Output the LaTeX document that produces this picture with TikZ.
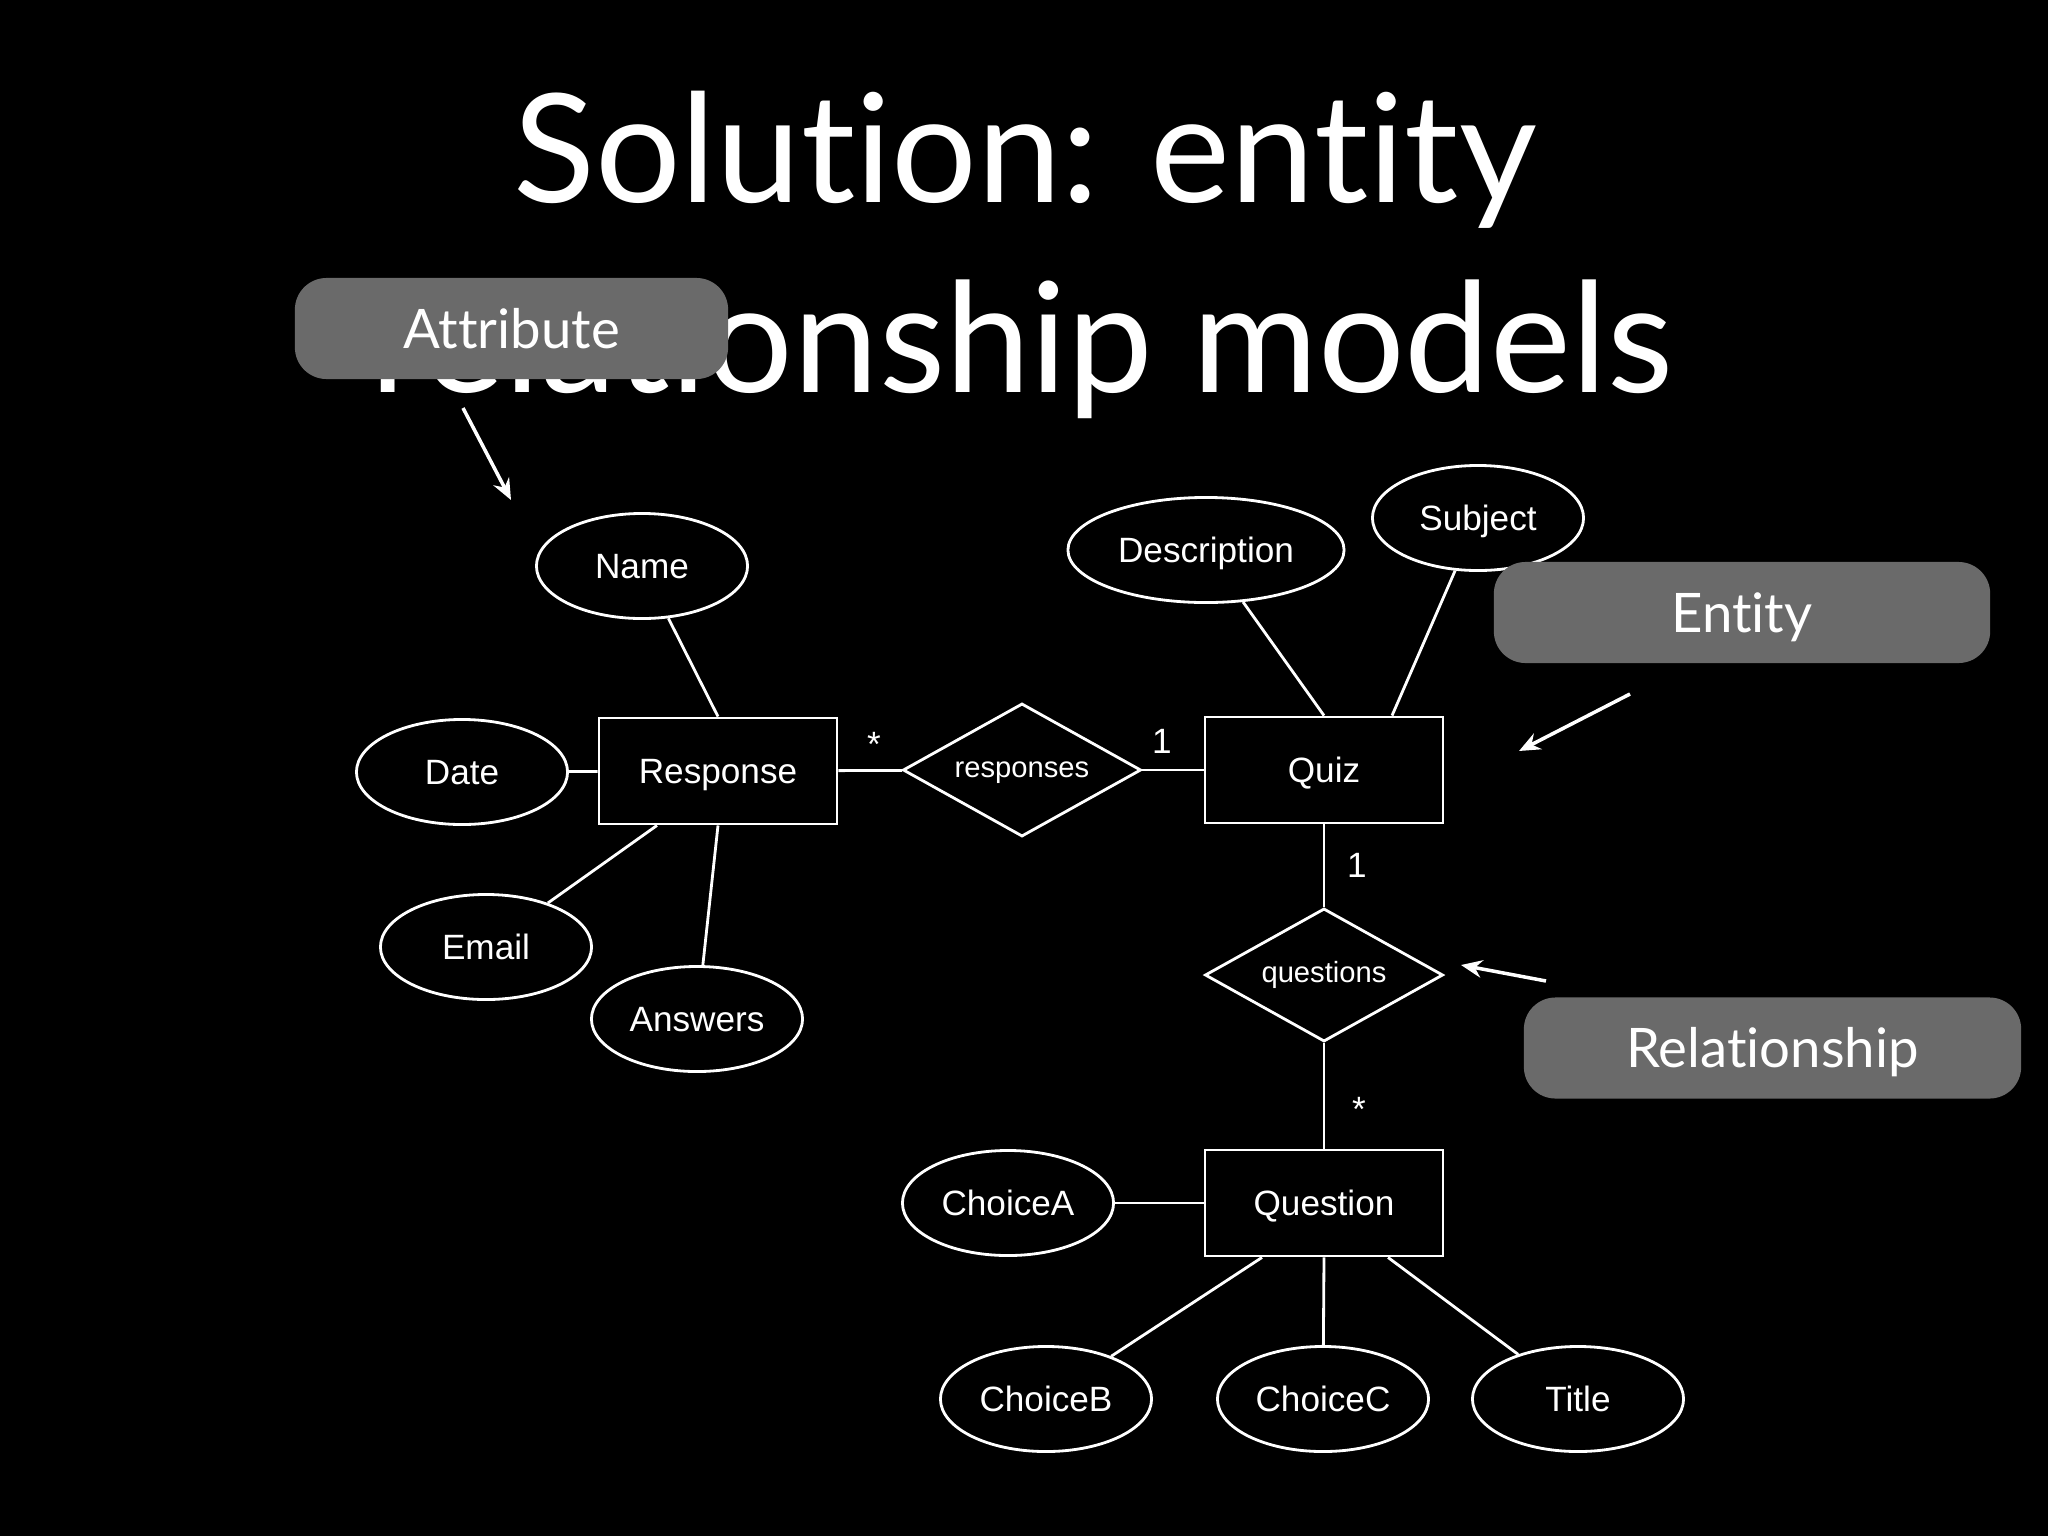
\documentclass[tikz,border=0pt]{standalone}
\usepackage{fontspec}
\setmainfont{Lato}[Ligatures=NoCommon]
\newfontfamily\diafont{Liberation Sans}
\usetikzlibrary{shapes.geometric,arrows.meta}
\definecolor{calloutgray}{RGB}{106,106,106}
\tikzset{
  entity/.style={draw=white, line width=0.8pt, minimum width=2.38cm, minimum height=1.06cm,
    text=white, font=\diafont\fontsize{10}{12}\selectfont, text height=7.2pt, text depth=0pt},
  attrib/.style={ellipse, draw=white, line width=0.8pt, minimum width=2.11cm, minimum height=1.05cm,
    inner sep=0pt, text=white, font=\diafont\fontsize{10}{12}\selectfont, text height=7.2pt, text depth=0pt},
  relship/.style={diamond, draw=white, line width=0.8pt, minimum width=2.38cm, minimum height=1.33cm,
    inner sep=0pt, aspect=1.8, text=white, font=\diafont\fontsize{8.3}{10}\selectfont,
    text height=4.3pt, text depth=0pt},
  mult/.style={anchor=base, text=white, font=\diafont\fontsize{10}{12}\selectfont},
  link/.style={draw=white, line width=0.8pt},
  callout/.style={fill=calloutgray, rounded corners=9pt, text=white,
    font=\fontsize{15.5}{18}\selectfont, text height=11.3pt, text depth=0pt},
  pointer/.style={white, line width=1pt, -{Stealth[length=6pt,width=5pt,inset=2pt]}}
}
\begin{document}
\begin{tikzpicture}[x=0.01cm,y=-0.01cm]
  \fill[black] (0,0) rectangle (2048,1536);
  \useasboundingbox (0,0) rectangle (2048,1536);
  % title
  \node[anchor=base, text=white, font=\fontsize{43}{50}\selectfont] (title1) at (1025,202) {Solution: entity};
  \node[anchor=base, text=white, font=\fontsize{43.5}{50}\selectfont] (title2) at (1022,392) {relationship models};

  % entities and relationships
  \node[entity] (resp) at (718,771) {Response};
  \node[entity] (quiz) at (1324,770) {Quiz};
  \node[entity] (quest) at (1324,1203) {Question};
  \node[relship] (responses) at (1022,770) {responses};
  \node[relship] (questions) at (1324,975) {questions};

  % attributes
  \node[attrib] (name) at (642,566) {Name};
  \node[attrib] (date) at (462,772) {Date};
  \node[attrib] (email) at (486,947) {Email};
  \node[attrib] (answers) at (697,1019) {Answers};
  \node[attrib, minimum width=2.76cm] (desc) at (1206,550) {Description};
  \node[attrib] (subj) at (1478,518) {Subject};
  \node[attrib] (choicea) at (1008,1203) {ChoiceA};
  \node[attrib] (choiceb) at (1046,1399) {ChoiceB};
  \node[attrib] (choicec) at (1323,1399) {ChoiceC};
  \node[attrib] (qtitle) at (1578,1399) {Title};

  \draw[link] (resp.north) -- (name);
  \draw[link] (date) -- (resp);
  \draw[link] ([xshift=-0.61cm]resp.south) -- (email);
  \draw[link] (resp.south) -- (answers);
  \draw[link] (quiz.north) -- (desc);
  \draw[link] ([xshift=0.68cm]quiz.north) -- (subj);
  \draw[link] (choicea) -- (quest);
  \draw[link] ([xshift=-0.62cm]quest.south) -- (choiceb);
  \draw[link] (quest.south) -- (choicec);
  \draw[link] ([xshift=0.64cm]quest.south) -- (qtitle);

  \draw[link] (resp) -- (responses);
  \draw[link] (responses) -- (quiz);
  \draw[link] (quiz) -- (questions);
  \draw[link] (questions) -- (quest);

  % multiplicities
  \node[mult] (multresp) at (874,756) {*};
  \node[mult] (multquiz) at (1162,753) {1};
  \node[mult] (multquiz2) at (1357,877) {1};
  \node[mult] (multquest) at (1359,1121) {*};

  % callouts
  \node[callout, minimum width=4.33cm, minimum height=1.01cm] (attrcall) at (511.5,328.5) {Attribute};
  \node[callout, minimum width=4.96cm, minimum height=1.01cm] (entcall) at (1742,612.5) {Entity};
  \node[callout, minimum width=4.97cm, minimum height=1.01cm] (relcall) at (1772.5,1048) {Relationship};

  \coordinate (attrtail) at (463,408);
  \coordinate (attrtip) at (511,500);
  \coordinate (enttail) at (1630,694);
  \coordinate (enttip) at (1519,751);
  \coordinate (reltail) at (1546,981);
  \coordinate (reltip) at (1461,965);
  \draw[pointer] (attrtail) -- (attrtip);
  \draw[pointer] (enttail) -- (enttip);
  \draw[pointer] (reltail) -- (reltip);
\end{tikzpicture}
\end{document}
